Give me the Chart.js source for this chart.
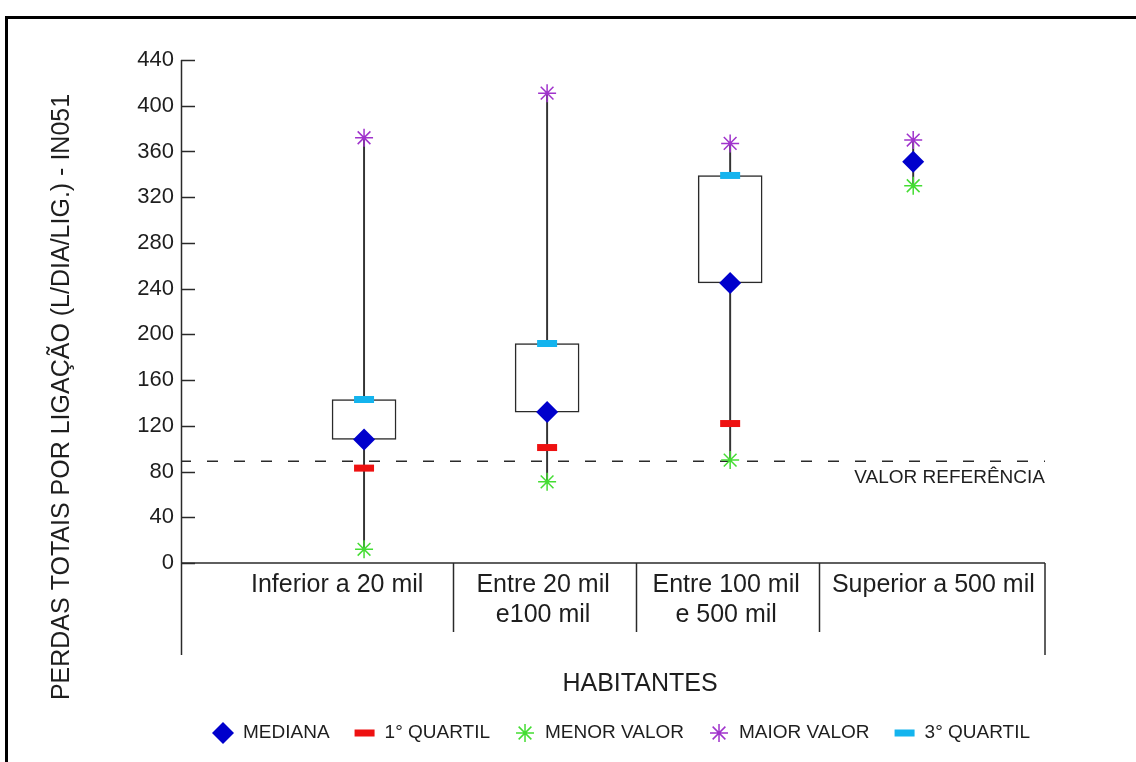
<!DOCTYPE html>
<html><head><meta charset="utf-8">
<script src="https://cdn.jsdelivr.net/npm/chart.js@4.4.1/dist/chart.umd.min.js"></script>
<style>html,body{margin:0;padding:0;background:#fff;}#wrap{position:relative;width:1136px;height:762px;}</style>
</head><body><div id="wrap"><canvas id="c" width="1136" height="762"></canvas></div>
<script>
// ---- data ----
const categories = [["Inferior a 20 mil"], ["Entre 20 mil", "e100 mil"], ["Entre 100 mil", "e 500 mil"], ["Superior a 500 mil"]];
const categoryX = [1, 2, 3, 4];
const medianValues = [108, 132, 245, 351];
const q1Values = [83, 101, 122, null];
const q3Values = [143, 192, 339, null];
const minValues = [12, 71, 90, 330];
const maxValues = [372, 411, 367, 370];
const referenceValue = 89;
const yTickValues = [0, 40, 80, 120, 160, 200, 240, 280, 320, 360, 400, 440];
const yTitle = "PERDAS TOTAIS POR LIGAÇÃO (L/DIA/LIG.) - IN051";
const xTitle = "HABITANTES";
const referenceLabel = "VALOR REFERÊNCIA";
const seriesLabels = ["MEDIANA", "1° QUARTIL", "MENOR VALOR", "MAIOR VALOR", "3° QUARTIL"];

// ---- style ----
const FONT = "'Liberation Sans', Arial, sans-serif";
const TEXT = '#1e1e1e';
const LINE = '#2a2a2a';
const X_MIN = 0, X_MAX = 4.72;
const COLORS = { median: '#0000cc', q1: '#ee1111', min: '#44dd33', max: '#a033cc', q3: '#14b4ee' };

const pts = (vals) => categoryX.map((x, i) => ({ x, y: vals[i] })).filter(p => p.y !== null);

const datasets = [
  { type: 'scatter', label: seriesLabels[0], data: pts(medianValues), pointStyle: 'rectRot', pointRadius: 11,
    backgroundColor: COLORS.median, borderColor: COLORS.median, pointBorderWidth: 0, order: 0 },
  { type: 'scatter', label: seriesLabels[1], data: pts(q1Values), pointStyle: 'line', pointRadius: 10,
    backgroundColor: COLORS.q1, borderColor: COLORS.q1, pointBorderWidth: 7, order: 0 },
  { type: 'scatter', label: seriesLabels[2], data: pts(minValues), pointStyle: 'star', pointRadius: 9,
    backgroundColor: COLORS.min, borderColor: COLORS.min, pointBorderWidth: 1.5, order: 0 },
  { type: 'scatter', label: seriesLabels[3], data: pts(maxValues), pointStyle: 'star', pointRadius: 9,
    backgroundColor: COLORS.max, borderColor: COLORS.max, pointBorderWidth: 1.5, order: 0 },
  { type: 'scatter', label: seriesLabels[4], data: pts(q3Values), pointStyle: 'line', pointRadius: 10,
    backgroundColor: COLORS.q3, borderColor: COLORS.q3, pointBorderWidth: 7, order: 0 },
  { type: 'line', label: 'ref', data: [{ x: X_MIN, y: referenceValue }, { x: X_MAX, y: referenceValue }],
    borderColor: LINE, borderWidth: 1.5, borderDash: [11, 16], borderDashOffset: -26, pointRadius: 0, order: 1 },
  { type: 'bar', label: 'box', data: categoryX.map((x, i) => ({ x, y: [medianValues[i], q3Values[i]] })).filter(p => p.y[1] !== null),
    backgroundColor: '#ffffff', borderColor: LINE, borderWidth: 1.5, borderSkipped: false, barThickness: 64, grouped: false, order: 2 },
  { type: 'bar', label: 'whisker', data: categoryX.map((x, i) => ({ x, y: [minValues[i], maxValues[i]] })),
    backgroundColor: '#333333', borderWidth: 0, barThickness: 1.3, grouped: false, order: 3 }
];

function drawMarker(ctx, style, color, x, y) {
  ctx.save();
  ctx.fillStyle = color; ctx.strokeStyle = color;
  if (style === 'rectRot') {
    const r = 11;
    ctx.beginPath(); ctx.moveTo(x, y - r); ctx.lineTo(x + r, y); ctx.lineTo(x, y + r); ctx.lineTo(x - r, y); ctx.closePath(); ctx.fill();
  } else if (style === 'line') {
    ctx.fillRect(x - 10, y - 3.5, 20, 7);
  } else if (style === 'star') {
    const r = 9; ctx.lineWidth = 1.5; ctx.beginPath();
    for (let k = 0; k < 4; k++) {
      const a = k * Math.PI / 4;
      ctx.moveTo(x - r * Math.cos(a), y - r * Math.sin(a)); ctx.lineTo(x + r * Math.cos(a), y + r * Math.sin(a));
    }
    ctx.stroke();
  }
  ctx.restore();
}

const decorPlugin = {
  id: 'decor',
  beforeDatasetsDraw(chart) {
    const { ctx, chartArea: ca, scales: { y } } = chart;
    ctx.save();
    ctx.strokeStyle = LINE; ctx.lineWidth = 1.5;
    // y axis line
    ctx.beginPath(); ctx.moveTo(ca.left + 0.5, ca.top); ctx.lineTo(ca.left + 0.5, ca.bottom); ctx.stroke();
    // inward ticks
    yTickValues.forEach(v => {
      const py = Math.round(y.getPixelForValue(v)) + 0.5;
      ctx.beginPath(); ctx.moveTo(ca.left, py); ctx.lineTo(ca.left + 14, py); ctx.stroke();
    });
    ctx.restore();
  },
  afterDraw(chart) {
    const { ctx, chartArea: ca, scales: { x, y } } = chart;
    ctx.save();
    // frame
    ctx.strokeStyle = '#000'; ctx.lineWidth = 3;
    ctx.beginPath(); ctx.moveTo(6.5, 762); ctx.lineTo(6.5, 17.5); ctx.lineTo(1136, 17.5); ctx.stroke();

    // category table
    const base = y.getPixelForValue(0);
    ctx.strokeStyle = LINE; ctx.lineWidth = 1.5;
    ctx.beginPath(); ctx.moveTo(ca.left, base); ctx.lineTo(ca.right, base); ctx.stroke();
    ctx.beginPath(); ctx.moveTo(ca.left + 0.5, base); ctx.lineTo(ca.left + 0.5, base + 92); ctx.stroke();
    ctx.beginPath(); ctx.moveTo(ca.right, base); ctx.lineTo(ca.right, base + 92); ctx.stroke();
    const bounds = [X_MIN];
    for (let i = 0; i < categoryX.length - 1; i++) bounds.push((categoryX[i] + categoryX[i + 1]) / 2);
    bounds.push(X_MAX);
    for (let i = 1; i < bounds.length - 1; i++) {
      const px = Math.round(x.getPixelForValue(bounds[i])) - 2.5;
      ctx.beginPath(); ctx.moveTo(px, base); ctx.lineTo(px, base + 69); ctx.stroke();
    }
    ctx.fillStyle = TEXT; ctx.font = '25px ' + FONT; ctx.textAlign = 'center'; ctx.textBaseline = 'middle';
    categories.forEach((lines, i) => {
      const cellMid = (x.getPixelForValue(bounds[i]) + x.getPixelForValue(bounds[i + 1])) / 2;
      const catMid = x.getPixelForValue(categoryX[i]);
      const cx = i === categories.length - 1 ? cellMid : (cellMid + catMid) / 2 - 4;
      lines.forEach((t, j) => ctx.fillText(t, cx, base + 22 + j * 30));
    });

    // reference label
    ctx.font = '19px ' + FONT; ctx.textAlign = 'right';
    ctx.fillText(referenceLabel, ca.right, y.getPixelForValue(referenceValue) + 17);

    // axis titles
    ctx.font = '25px ' + FONT; ctx.textAlign = 'center';
    ctx.fillText(xTitle, (ca.left + ca.right) / 2 + 27, base + 121);
    ctx.save(); ctx.translate(62, 397); ctx.rotate(-Math.PI / 2); ctx.fillText(yTitle, 0, 0); ctx.restore();

    // legend
    ctx.font = '19px ' + FONT; ctx.textAlign = 'left';
    const legendDs = chart.data.datasets.slice(0, 5);
    const widths = legendDs.map(d => ctx.measureText(d.label).width);
    let lx = ca.left + 42;
    const ly = base + 170;
    legendDs.forEach((d, i) => {
      drawMarker(ctx, d.pointStyle, d.borderColor, lx, ly);
      ctx.fillText(d.label, lx + 20, ly);
      lx += 20 + widths[i] + 35;
    });
    ctx.restore();
  }
};

new Chart(document.getElementById('c'), {
  type: 'bar',
  data: { datasets },
  options: {
    responsive: false, animation: false, devicePixelRatio: 1,
    layout: { padding: { left: 0, top: 60, right: 91, bottom: 199 } },
    plugins: { legend: { display: false }, tooltip: { enabled: false } },
    scales: {
      x: { type: 'linear', min: X_MIN, max: X_MAX, offset: false, display: false },
      y: {
        type: 'linear', min: 0, max: 440,
        afterBuildTicks: (s) => { s.ticks = yTickValues.map(v => ({ value: v })); },
        afterFit: (s) => { s.width = 181; },
        ticks: { font: { family: FONT, size: 22 }, color: TEXT, padding: 7 },
        grid: { display: false, drawTicks: false },
        border: { display: false }
      }
    }
  },
  plugins: [decorPlugin]
});
</script></body></html>
